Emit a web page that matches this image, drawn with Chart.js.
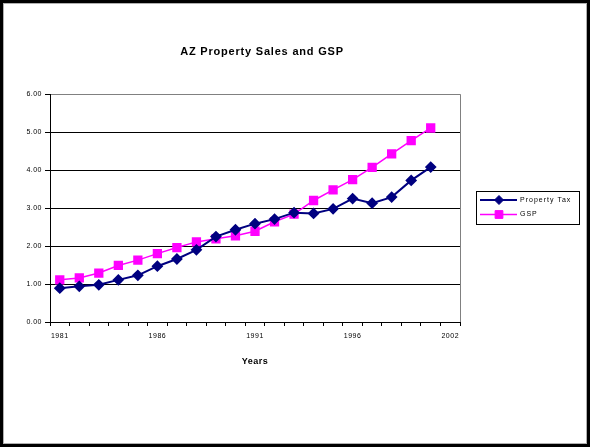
<!DOCTYPE html>
<html>
<head>
<meta charset="utf-8">
<script src="https://cdn.jsdelivr.net/npm/chart.js@4.4.0/dist/chart.umd.min.js"></script>
<style>
html, body { margin: 0; padding: 0; background: #fff; }
#wrap { position: relative; width: 590px; height: 447px; }
#frame {
    position: absolute; left: 0; top: 0; width: 590px; height: 447px;
    box-sizing: border-box; border: 3px solid #000;
    box-shadow: inset 0 0 0 1px #b0b0b0; pointer-events: none;
}
</style>
</head>
<body>
<div id="wrap">
    <canvas id="chart" width="590" height="447"></canvas>
    <div id="frame"></div>
</div>
<script>
// categories (the last one carries no data)
const years = ['1981', '1982', '1983', '1984', '1985', '1986', '1987', '1988', '1989', '1990',
    '1991', '1992', '1993', '1994', '1995', '1996', '1997', '1998', '1999', '2000', '2002'];

const propertyTax = [0.89, 0.94, 0.98, 1.11, 1.23, 1.47, 1.66, 1.90, 2.25, 2.43,
    2.59, 2.71, 2.88, 2.86, 2.98, 3.25, 3.13, 3.29, 3.73, 4.08];

const gsp = [1.11, 1.16, 1.29, 1.49, 1.63, 1.80, 1.96, 2.11, 2.19, 2.27,
    2.39, 2.64, 2.84, 3.20, 3.48, 3.75, 4.07, 4.43, 4.78, 5.11];

const yTicks = [0, 1, 2, 3, 4, 5, 6];

const fontFamily = '"Liberation Sans", Arial, sans-serif';
Chart.defaults.font.family = fontFamily;
Chart.defaults.color = '#000';

/* Excel style text is slightly spaced out */
const spacing = {
    id: 'spacing',
    beforeDraw(chart) { chart.ctx.letterSpacing = '0.5px'; },
    afterDraw(chart) { chart.ctx.letterSpacing = '0px'; }
};

/* grey right edge of the plot area */
const plotEdge = {
    id: 'plotEdge',
    beforeDatasetsDraw(chart) {
        const {ctx, chartArea} = chart;
        ctx.save();
        ctx.strokeStyle = '#808080';
        ctx.lineWidth = 1;
        ctx.beginPath();
        ctx.moveTo(Math.round(chartArea.right) + 0.5, chartArea.top);
        ctx.lineTo(Math.round(chartArea.right) + 0.5, chartArea.bottom);
        ctx.stroke();
        ctx.restore();
    }
};

/* legend box with line + marker samples, like Excel */
const boxLegend = {
    id: 'boxLegend',
    afterDraw(chart) {
        const ctx = chart.ctx;
        const x = 476, y = 191, w = 103, h = 33;
        ctx.save();
        ctx.letterSpacing = '1px';
        ctx.fillStyle = '#fff';
        ctx.fillRect(x, y, w, h);
        ctx.strokeStyle = '#000';
        ctx.lineWidth = 1;
        ctx.strokeRect(x + 0.5, y + 0.5, w, h);
        ctx.font = '7px ' + fontFamily;
        ctx.textBaseline = 'middle';
        chart.data.datasets.forEach((ds, i) => {
            const rowY = y + 9 + i * 14.5;
            ctx.strokeStyle = ds.borderColor;
            ctx.lineWidth = ds.borderWidth;
            ctx.beginPath();
            ctx.moveTo(x + 4, rowY);
            ctx.lineTo(x + 41, rowY);
            ctx.stroke();
            ctx.fillStyle = ds.pointBackgroundColor;
            ctx.strokeStyle = ds.pointBorderColor;
            ctx.lineWidth = 1;
            Chart.helpers.drawPoint(ctx, {
                pointStyle: ds.pointStyle, radius: ds.pointRadius, rotation: 0, borderWidth: 1
            }, x + 23, rowY);
            ctx.fillStyle = '#000';
            ctx.fillText(ds.label, x + 44, rowY);
        });
        ctx.restore();
    }
};

const chart = new Chart(document.getElementById('chart'), {
    type: 'line',
    data: {
        labels: years,
        datasets: [{
            label: 'Property Tax',
            data: propertyTax,
            borderColor: '#000080',
            backgroundColor: '#000080',
            pointBackgroundColor: '#000080',
            pointBorderColor: '#000080',
            borderWidth: 2,
            pointStyle: 'rectRot',
            pointRadius: 4.5,
            tension: 0
        }, {
            label: 'GSP',
            data: gsp,
            borderColor: '#ff00ff',
            backgroundColor: '#ff00ff',
            pointBackgroundColor: '#ff00ff',
            pointBorderColor: '#ff00ff',
            borderWidth: 1.5,
            pointStyle: 'rect',
            pointRadius: 5.5,
            tension: 0
        }]
    },
    options: {
        responsive: false,
        animation: false,
        layout: { padding: { left: 0, right: 130, top: 0, bottom: 0 } },
        plugins: {
            legend: { display: false },
            tooltip: { enabled: false },
            title: {
                display: true,
                text: 'AZ Property Sales and GSP',
                fullSize: false,
                color: '#000',
                font: { size: 11, weight: 'bold' },
                padding: { top: 45, bottom: 36 }
            }
        },
        scales: {
            x: {
                offset: true,
                grid: { offset: true, drawOnChartArea: false, drawTicks: true, tickLength: 4, tickColor: '#000', color: '#000' },
                border: { color: '#000', width: 1 },
                ticks: {
                    autoSkip: false,
                    maxRotation: 0,
                    padding: 6,
                    font: { size: 7 },
                    callback: (v, i) => (i % 5 === 0 ? years[i] : '')
                },
                title: {
                    display: true,
                    text: 'Years',
                    font: { size: 9, weight: 'bold' },
                    padding: { top: 0, bottom: 80 }
                },
                afterFit: s => { s.height = 125; }
            },
            y: {
                min: yTicks[0],
                max: yTicks[yTicks.length - 1],
                afterBuildTicks: s => { s.ticks = yTicks.map(v => ({ value: v })); },
                ticks: { padding: 3, font: { size: 7 }, callback: v => Number(v).toFixed(2) },
                grid: {
                    color: c => (c.tick && c.tick.value === 6 ? '#808080' : '#000'),
                    tickColor: '#000',
                    tickLength: 5
                },
                border: { color: '#000', width: 1 },
                afterFit: s => { s.width = 50; }
            }
        }
    },
    plugins: [spacing, plotEdge, boxLegend]
});

// title sits a little right of the plot centre in the original, with wider spacing
const titleBox = chart.titleBlock;
const drawTitle = titleBox.draw.bind(titleBox);
titleBox.draw = function () {
    const ctx = chart.ctx;
    ctx.save();
    ctx.letterSpacing = '0.8px';
    ctx.translate(7, 0);
    drawTitle();
    ctx.restore();
};
chart.draw();
</script>
</body>
</html>
